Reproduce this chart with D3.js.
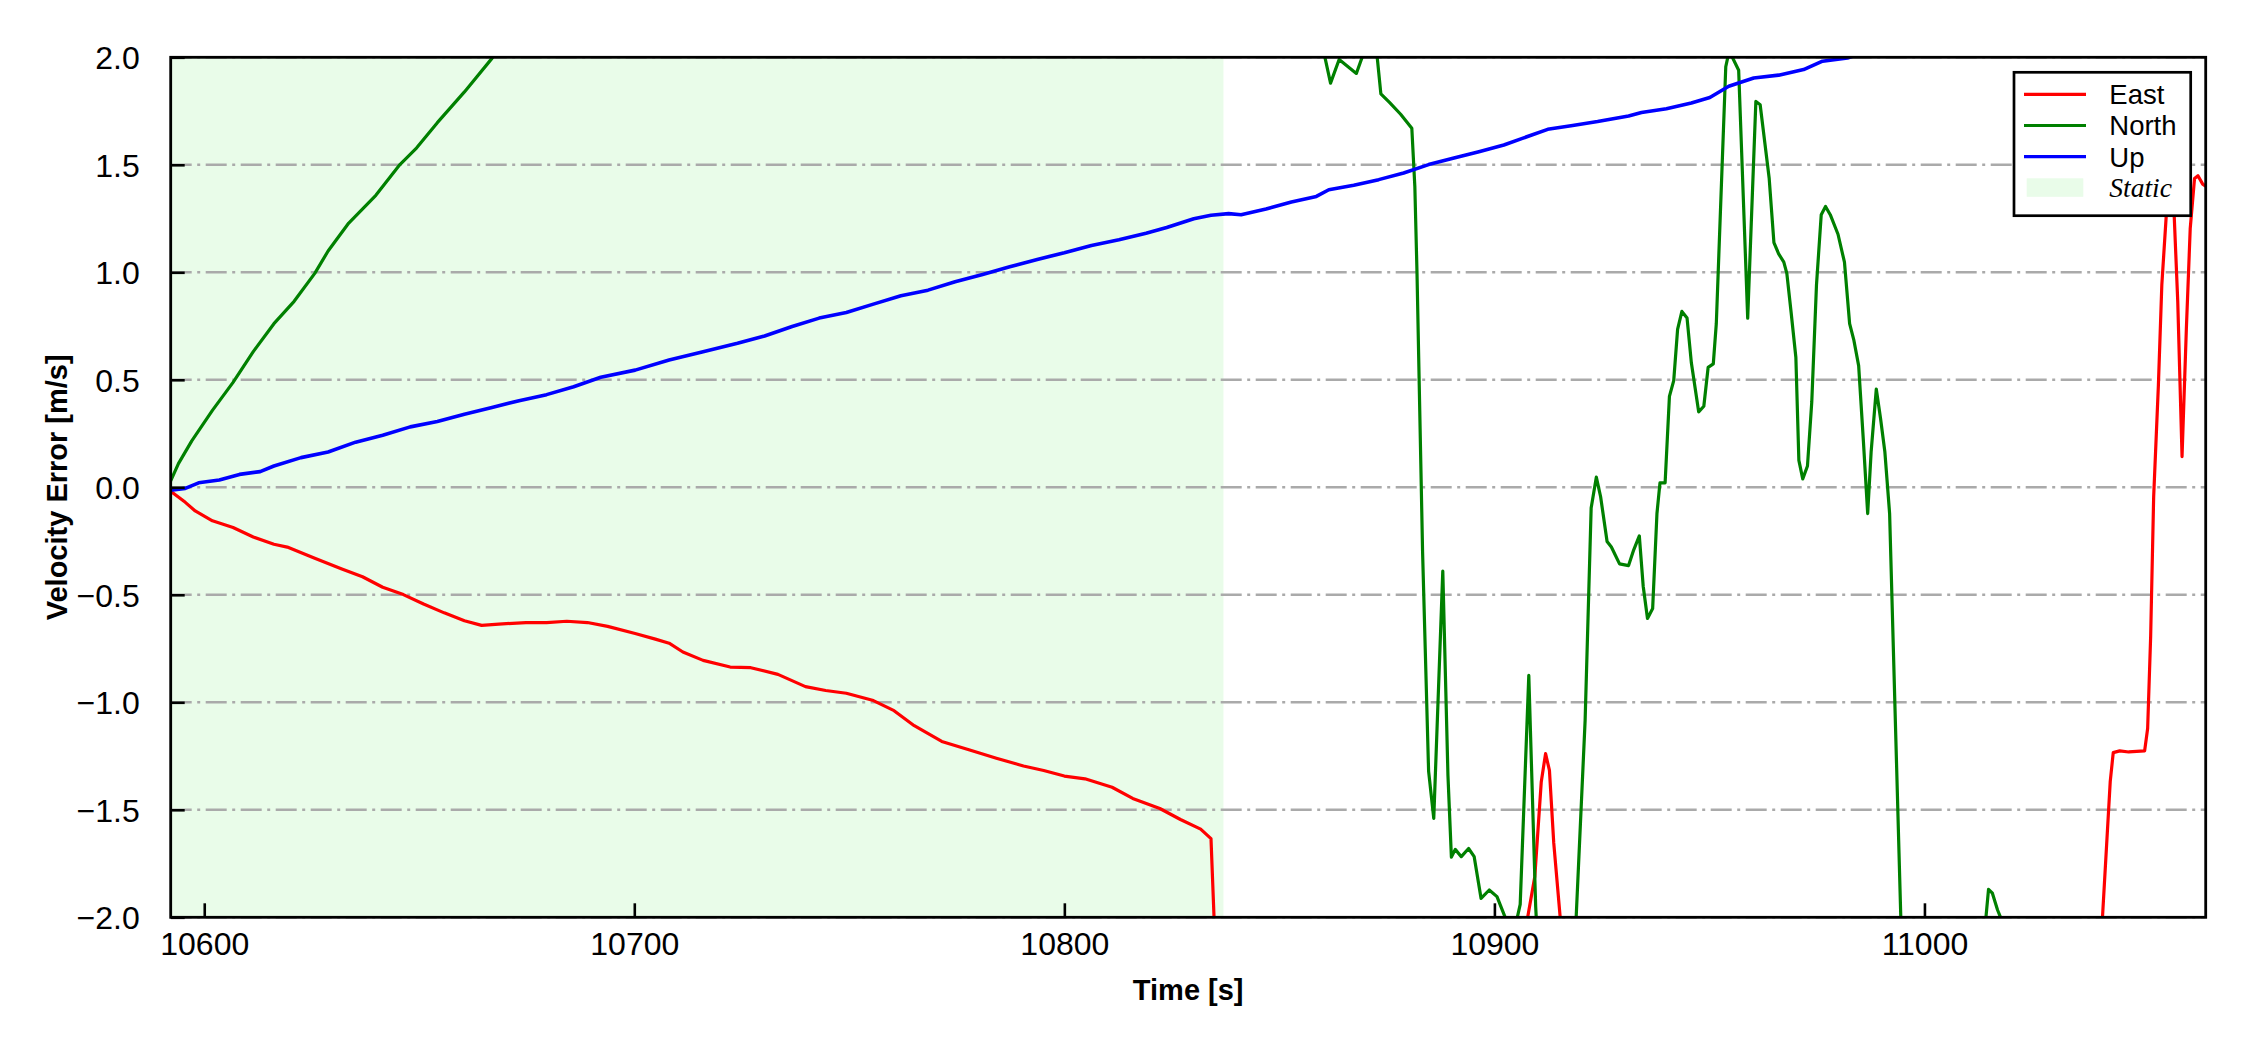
<!DOCTYPE html>
<html>
<head>
<meta charset="utf-8">
<script src="https://cdn.jsdelivr.net/npm/d3@7"></script>
<style>
  body { margin: 0; background: #fff; }
  svg { display: block; }
</style>
</head>
<body>
<script>
// Axis ticks and ranges
const xTicks = [10600, 10700, 10800, 10900, 11000];
const yTicks = [-2, -1.5, -1, -0.5, 0, 0.5, 1, 1.5, 2];
const timeRange = [10592.2, 11065.4];
const velRange = [-2, 2];
const staticSpan = [10592.2, 10837];

// Series values: [time s, velocity error m/s]
const east = [
  [10592.2, -0.018], [10595.6, -0.07], [10597.9, -0.11], [10601.9, -0.156], [10606.7, -0.187],
  [10611.4, -0.231], [10616.2, -0.265], [10619.3, -0.278], [10625.7, -0.33], [10632, -0.38],
  [10636.8, -0.416], [10641.5, -0.465], [10646.3, -0.499], [10651, -0.543], [10655.8, -0.584],
  [10660.5, -0.621], [10664.5, -0.642], [10668.5, -0.636], [10674.8, -0.629], [10679.6, -0.629],
  [10684.3, -0.623], [10689.1, -0.629], [10693.8, -0.647], [10700.2, -0.68], [10704.9, -0.706],
  [10708.1, -0.725], [10711.3, -0.766], [10716, -0.805], [10722.3, -0.836], [10727.1, -0.839],
  [10733.4, -0.87], [10739.8, -0.927], [10744.5, -0.945], [10749.3, -0.958], [10755.6, -0.992],
  [10760.4, -1.039], [10765.1, -1.109], [10771.5, -1.182], [10777.8, -1.221], [10784.2, -1.26],
  [10790.5, -1.296], [10795.2, -1.317], [10800, -1.343], [10804.8, -1.356], [10811.1, -1.395],
  [10815.9, -1.447], [10822.2, -1.494], [10827, -1.545], [10831.7, -1.59], [10834.1, -1.634],
  [10835.0, -2.1], [10836, -3.0], [10900, -3.0], [10907.3, -2.05], [10909.4, -1.81],
  [10910.9, -1.369], [10911.9, -1.239], [10912.8, -1.317], [10913.8, -1.654], [10915.3, -2.0],
  [10916, -2.5], [11040, -2.6], [11041.4, -2.0], [11043.2, -1.369], [11043.9, -1.234],
  [11045.4, -1.226], [11047.5, -1.231], [11051.2, -1.226], [11051.9, -1.122], [11052.6, -0.694],
  [11053.3, -0.044], [11054.4, 0.475], [11055.2, 0.943], [11056.2, 1.255], [11057.2, 1.6],
  [11058.0, 1.3], [11058.9, 0.865], [11059.9, 0.143], [11060.9, 0.735], [11061.8, 1.203],
  [11062.8, 1.436], [11063.6, 1.449], [11064.7, 1.41], [11065.4, 1.40]
];

const north = [
  [10592.2, 0.03], [10594, 0.11], [10597.1, 0.216], [10601.9, 0.358], [10606.7, 0.488],
  [10611.4, 0.631], [10616.2, 0.761], [10620.9, 0.865], [10625.7, 0.995], [10628.8, 1.099],
  [10633.6, 1.229], [10639.9, 1.358], [10645.5, 1.501], [10649.4, 1.579], [10654.2, 1.696],
  [10660.5, 1.839], [10666.9, 1.995], [10680, 2.35], [10720, 3.0], [10780, 3.6],
  [10830, 3.5], [10850, 2.8], [10859.5, 2.1], [10861.9, 1.88], [10863.9, 1.99],
  [10867.9, 1.925], [10869.6, 2.02], [10871, 2.1], [10872.6, 2.03], [10873.6, 1.83],
  [10875.6, 1.79], [10878.2, 1.735], [10880.8, 1.67], [10881.5, 1.40], [10882.0, 1.0],
  [10883.3, -0.3], [10884.7, -1.32], [10885.9, -1.54], [10888.0, -0.39], [10889.2, -1.34],
  [10890.0, -1.72], [10890.9, -1.684], [10892.3, -1.718], [10894.0, -1.68], [10895.3, -1.718],
  [10896.9, -1.912], [10898.8, -1.873], [10900.6, -1.904], [10902.3, -1.99], [10903.5, -2.05],
  [10905.0, -2.03], [10906.0, -1.94], [10908.0, -0.875], [10909.6, -1.95], [10910.5, -2.3],
  [10915, -2.5], [10918.9, -2.05], [10921.1, -1.083], [10922.5, -0.096], [10923.7, 0.047],
  [10924.7, -0.044], [10926.2, -0.252], [10927.2, -0.278], [10929.1, -0.356], [10931.2, -0.364],
  [10932.4, -0.291], [10933.7, -0.226], [10934.6, -0.46], [10935.6, -0.61], [10936.8, -0.564],
  [10937.8, -0.122], [10938.5, 0.021], [10939.7, 0.021], [10940.7, 0.423], [10941.7, 0.496],
  [10942.6, 0.735], [10943.6, 0.818], [10944.8, 0.787], [10945.8, 0.579], [10947.5, 0.351],
  [10948.7, 0.377], [10949.7, 0.558], [10950.9, 0.574], [10951.6, 0.761], [10953.8, 1.956],
  [10954.6, 2.03], [10956.8, 1.94], [10958.9, 0.787], [10960.8, 1.795], [10961.8, 1.779],
  [10963.9, 1.436], [10965.0, 1.138], [10966.1, 1.086], [10967.3, 1.047], [10968.0, 0.995],
  [10969.0, 0.813], [10970.1, 0.605], [10970.8, 0.125], [10971.7, 0.039], [10972.8, 0.099],
  [10973.8, 0.397], [10974.9, 0.943], [10976.0, 1.268], [10977.0, 1.306], [10978.1, 1.268],
  [10979.9, 1.177], [10981.4, 1.047], [10982.6, 0.761], [10983.6, 0.683], [10984.7, 0.566],
  [10985.8, 0.216], [10986.8, -0.122], [10987.6, 0.164], [10988.8, 0.457], [10989.8, 0.319],
  [10990.8, 0.164], [10991.9, -0.122], [10994.5, -2.0], [10996, -2.6], [11010, -2.5],
  [11014.3, -2.0], [11014.9, -1.87], [11015.8, -1.888], [11017.0, -1.966], [11017.7, -2.0],
  [11020, -2.4], [11065.4, -2.5]
];

const up = [
  [10592.2, -0.013], [10595.6, -0.005], [10598.7, 0.021], [10603.5, 0.034], [10608.2, 0.06],
  [10613, 0.073], [10616.2, 0.099], [10622.5, 0.138], [10628.8, 0.164], [10635.2, 0.21],
  [10641.5, 0.242], [10647.9, 0.281], [10654.2, 0.306], [10660.5, 0.34], [10666.9, 0.371],
  [10673.2, 0.403], [10679.6, 0.431], [10685.9, 0.468], [10692.2, 0.512], [10700.2, 0.545],
  [10708.1, 0.592], [10716, 0.631], [10724, 0.67], [10730.3, 0.704], [10736.7, 0.748],
  [10743, 0.787], [10749.3, 0.813], [10755.6, 0.852], [10762, 0.891], [10768.3, 0.917],
  [10774.6, 0.956], [10781, 0.99], [10787.3, 1.026], [10793.7, 1.06], [10800, 1.091],
  [10806.3, 1.125], [10812.7, 1.151], [10819, 1.182], [10823.8, 1.208], [10830.1, 1.249],
  [10834.1, 1.265], [10838.2, 1.273], [10841.1, 1.268], [10846.9, 1.294], [10852.8, 1.327],
  [10858.6, 1.353], [10861.5, 1.384], [10867.3, 1.405], [10873.1, 1.431], [10878.9, 1.462],
  [10884.7, 1.501], [10890.6, 1.532], [10896.4, 1.561], [10902.2, 1.592], [10906.5, 1.623],
  [10912.4, 1.665], [10918.2, 1.683], [10924, 1.701], [10931.2, 1.727], [10934.2, 1.743],
  [10940, 1.761], [10945.8, 1.787], [10950.1, 1.813], [10954.5, 1.865], [10960.3, 1.904],
  [10966.1, 1.917], [10971.9, 1.943], [10976.3, 1.982], [10982.1, 1.997], [10990, 2.05],
  [11065.4, 2.45]
];

const seriesNames = ['East', 'North', 'Up'];
const staticLabel = 'Static';

// Styles
const colors = ['#ff0000', '#008000', '#0000ff'];
const lineWidths = [3.2, 3.2, 3.6];
const staticFill = '#e9fce9';
const sans = '"Liberation Sans", Arial, sans-serif';
const serif = '"Liberation Serif", "Times New Roman", serif';

// SVG dimensions
const fullWidth = 2250;
const fullHeight = 1050;
const margin = { top: 57.3, right: 44.3, bottom: 132.7, left: 170.7 };
const width = fullWidth - margin.left - margin.right;
const height = fullHeight - margin.top - margin.bottom;

const svg = d3.select('body')
  .append('svg')
  .attr('width', fullWidth)
  .attr('height', fullHeight);

svg.append('rect')
  .attr('width', fullWidth)
  .attr('height', fullHeight)
  .attr('fill', '#fff');

const x = d3.scaleLinear().domain(timeRange).range([0, width]);
const y = d3.scaleLinear().domain(velRange).range([height, 0]);

const g = svg.append('g')
  .attr('transform', `translate(${margin.left}, ${margin.top})`);

svg.append('clipPath')
  .attr('id', 'clip-plot')
  .append('rect')
  .attr('x', 0)
  .attr('y', 0)
  .attr('width', width)
  .attr('height', height);

// Static period shading
g.append('rect')
  .attr('x', x(staticSpan[0]))
  .attr('y', 0)
  .attr('width', x(staticSpan[1]) - x(staticSpan[0]))
  .attr('height', height)
  .attr('fill', staticFill);

// Horizontal grid
g.append('g')
  .selectAll('line')
  .data(yTicks)
  .enter()
  .append('line')
  .attr('x1', 0)
  .attr('x2', width)
  .attr('y1', d => y(d))
  .attr('y2', d => y(d))
  .attr('stroke', '#aaaaaa')
  .attr('stroke-width', 2.4)
  .attr('stroke-dasharray', '21,5.5,3,5.5');

// Data lines
const line = d3.line()
  .x(d => x(d[0]))
  .y(d => y(d[1]));

const lines = g.append('g').attr('clip-path', 'url(#clip-plot)');
[east, north, up].forEach((series, i) => {
  lines.append('path')
    .datum(series)
    .attr('d', line)
    .attr('fill', 'none')
    .attr('stroke', colors[i])
    .attr('stroke-width', lineWidths[i])
    .attr('stroke-linejoin', 'round');
});

// Axes: inward ticks on bottom and left
const xAxis = g.append('g')
  .attr('transform', `translate(0, ${height})`)
  .call(d3.axisBottom(x).tickValues(xTicks).tickSizeInner(-14).tickSizeOuter(0).tickPadding(38).tickFormat(d3.format('d')));

const yAxis = g.append('g')
  .call(d3.axisLeft(y).tickValues(yTicks).tickSizeInner(-14).tickSizeOuter(0).tickPadding(31).tickFormat(d3.format('.1f')));

[xAxis, yAxis].forEach(ax => {
  ax.select('.domain').remove();
  ax.selectAll('.tick line').attr('stroke', '#000').attr('stroke-width', 2.6);
  ax.selectAll('.tick text')
    .attr('fill', '#000')
    .style('font-family', sans)
    .style('font-size', '32px');
});
xAxis.selectAll('.tick text').attr('dy', 0);
yAxis.selectAll('.tick text').attr('dy', '0.36em');

// Frame
g.append('rect')
  .attr('width', width)
  .attr('height', height)
  .attr('fill', 'none')
  .attr('stroke', '#000')
  .attr('stroke-width', 2.8);

// Axis titles
svg.append('text')
  .attr('x', margin.left + width / 2)
  .attr('y', 1000)
  .attr('text-anchor', 'middle')
  .style('font-family', sans)
  .style('font-weight', 'bold')
  .style('font-size', '29px')
  .text('Time [s]');

svg.append('text')
  .attr('transform', `translate(66.7, ${margin.top + height / 2}) rotate(-90)`)
  .attr('text-anchor', 'middle')
  .style('font-family', sans)
  .style('font-weight', 'bold')
  .style('font-size', '29px')
  .text('Velocity Error [m/s]');

// Legend
const leg = svg.append('g')
  .attr('transform', 'translate(2014, 72.3)');

leg.append('rect')
  .attr('width', 176.7)
  .attr('height', 143.4)
  .attr('fill', '#fff')
  .attr('stroke', '#000')
  .attr('stroke-width', 2.7);

seriesNames.forEach((name, i) => {
  const ly = 22 + i * 31.2;
  leg.append('line')
    .attr('x1', 10)
    .attr('x2', 72)
    .attr('y1', ly)
    .attr('y2', ly)
    .attr('stroke', colors[i])
    .attr('stroke-width', 3.2);
  leg.append('text')
    .attr('x', 95.3)
    .attr('y', ly + 10)
    .style('font-family', sans)
    .style('font-size', '27.5px')
    .text(name);
});

leg.append('rect')
  .attr('x', 12.7)
  .attr('y', 106)
  .attr('width', 56.6)
  .attr('height', 18.5)
  .attr('fill', staticFill);

leg.append('text')
  .attr('x', 95.3)
  .attr('y', 124.7)
  .style('font-family', serif)
  .style('font-style', 'italic')
  .style('font-size', '27.5px')
  .text(staticLabel);
</script>
</body>
</html>
